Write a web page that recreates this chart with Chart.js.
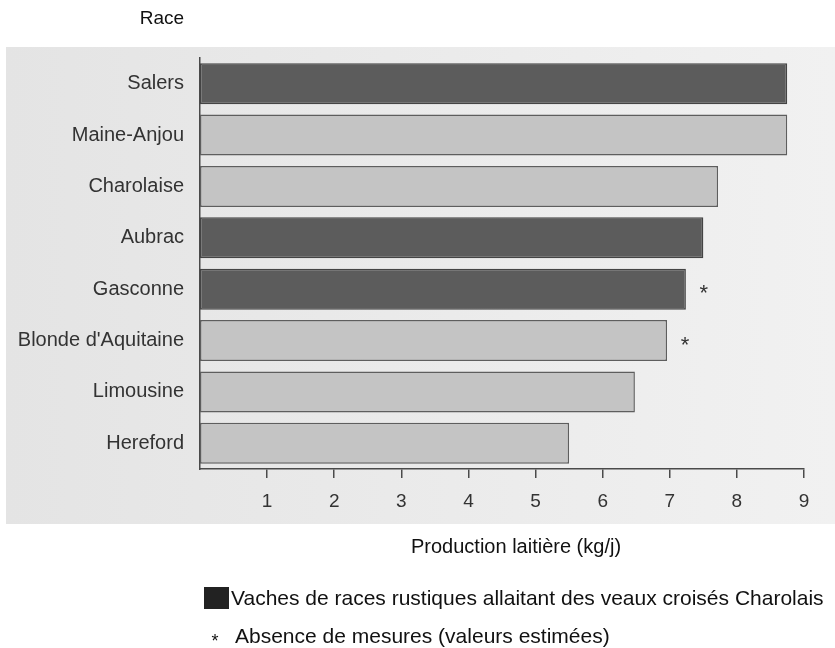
<!DOCTYPE html>
<html>
<head>
<meta charset="utf-8">
<script src="https://cdn.jsdelivr.net/npm/chart.js@4"></script>
<style>
  body { margin: 0; background: #fff; }
  canvas { display: block; }
</style>
</head>
<body>
<canvas id="chart" width="835" height="648"></canvas>
<script>
const races = ['Salers', 'Maine-Anjou', 'Charolaise', 'Aubrac', 'Gasconne', "Blonde d'Aquitaine", 'Limousine', 'Hereford'];
const production = [8.75, 8.75, 7.72, 7.5, 7.24, 6.96, 6.48, 5.5];
const rustique = [true, false, false, true, true, false, false, false];
const estime = [false, false, false, false, true, true, false, false];
const xTicks = [1, 2, 3, 4, 5, 6, 7, 8, 9];

const font = "'Liberation Sans', Arial, Helvetica, sans-serif";
const darkFill = '#5c5c5c';
const lightFill = '#c4c4c4';
const lineColor = '#4a4a4a';

const extras = {
    id: 'extras',
    beforeDraw(chart) {
        const ctx = chart.ctx;
        const grad = ctx.createLinearGradient(6, 0, 835, 0);
        grad.addColorStop(0, '#e4e4e4');
        grad.addColorStop(1, '#f1f1f1');
        ctx.save();
        ctx.fillStyle = '#fff';
        ctx.fillRect(0, 0, 835, 648);
        ctx.fillStyle = grad;
        ctx.fillRect(6, 47, 829, 477);
        ctx.restore();
    },
    afterDatasetsDraw(chart) {
        const ctx = chart.ctx;
        const xs = chart.scales.x, ys = chart.scales.y;
        ctx.save();
        ctx.fillStyle = '#333';
        ctx.font = '22px ' + font;
        ctx.textAlign = 'center';
        ctx.textBaseline = 'middle';
        estime.forEach((e, i) => {
            if (!e) return;
            ctx.fillText('*', xs.getPixelForValue(production[i]) + 18, ys.getPixelForValue(i) + 5);
        });
        ctx.restore();
    },
    afterDraw(chart) {
        const ctx = chart.ctx;
        ctx.save();
        ctx.fillStyle = '#111';
        ctx.textBaseline = 'middle';
        ctx.textAlign = 'center';
        ctx.font = '19px ' + font;
        ctx.fillText('Race', 162, 19);
        ctx.font = '20px ' + font;
        ctx.fillText('Production laitière (kg/j)', 516, 547);
        ctx.textAlign = 'left';
        ctx.fillStyle = '#222';
        ctx.fillRect(204, 587, 25, 22);
        ctx.fillStyle = '#111';
        ctx.font = '21px ' + font;
        ctx.fillText('Vaches de races rustiques allaitant des veaux croisés Charolais', 231, 599);
        ctx.fillText('Absence de mesures (valeurs estimées)', 235, 637);
        ctx.font = '18px ' + font;
        ctx.textAlign = 'center';
        ctx.fillText('*', 215, 642);
        ctx.restore();
    }
};

new Chart(document.getElementById('chart'), {
    type: 'bar',
    data: {
        labels: races,
        datasets: [{
            data: production,
            backgroundColor: rustique.map(r => r ? darkFill : lightFill),
            borderColor: rustique.map(r => r ? '#444' : '#5e5e5e'),
            borderWidth: 1.5,
            borderSkipped: false,
            categoryPercentage: 0.8,
            barPercentage: 1
        }]
    },
    options: {
        indexAxis: 'y',
        responsive: false,
        devicePixelRatio: 1,
        animation: false,
        layout: { padding: { top: 58, right: 31, left: 0, bottom: 0 } },
        plugins: {
            legend: { display: false },
            tooltip: { enabled: false }
        },
        scales: {
            x: {
                min: 0,
                max: 9,
                afterBuildTicks: s => { s.ticks = xTicks.map(v => ({ value: v })); },
                afterFit: s => { s.height = 179; },
                grid: { display: true, drawOnChartArea: false, drawTicks: true, tickLength: 9, color: lineColor, lineWidth: 1.5 },
                border: { display: true, color: lineColor, width: 1.5 },
                ticks: { color: '#333', padding: 12, font: { family: font, size: 19 } }
            },
            y: {
                afterFit: s => { s.width = 200; },
                grid: { display: false, drawTicks: false },
                border: { display: true, color: lineColor, width: 1.5 },
                ticks: { color: '#333', padding: 16, font: { family: font, size: 20 } }
            }
        }
    },
    plugins: [extras]
});
</script>
</body>
</html>
